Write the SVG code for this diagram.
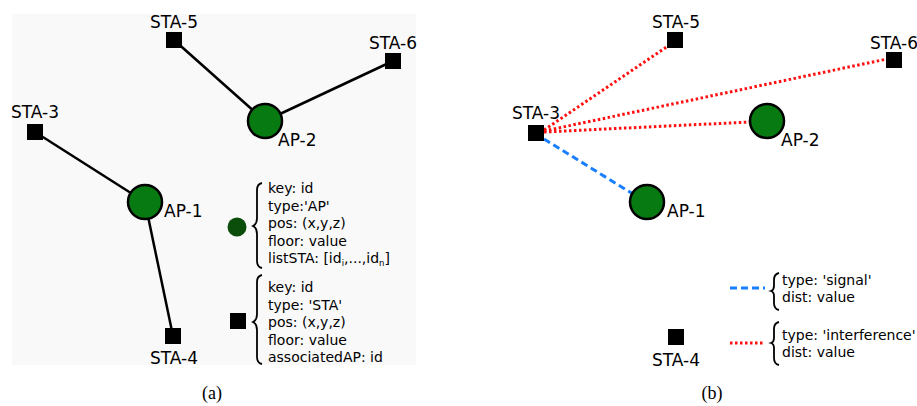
<svg xmlns="http://www.w3.org/2000/svg" width="917" height="406" viewBox="0 0 917 406">
<defs>
<style>
.lbl{font-family:"DejaVu Sans",sans-serif;font-size:17px;fill:#000}
.leg{font-family:"DejaVu Sans",sans-serif;font-size:14px;fill:#000}
.legr{font-family:"DejaVu Sans",sans-serif;font-size:14px;fill:#000}
.cap{font-family:"Liberation Serif",serif;font-size:18px;fill:#000}
.sta{fill:#000}
.ap{fill:#077a12;stroke:#000;stroke-width:2.5}
.edge{stroke:#000;stroke-width:2.5;fill:none}
.intf{stroke:#ff1010;stroke-width:3;stroke-dasharray:2.5 2.5;fill:none}
.sig{stroke:#1a7fff;stroke-width:3;stroke-dasharray:7 4;fill:none}
.brace{stroke:#000;stroke-width:1.8;fill:none}
</style>
</defs>
<rect x="0" y="0" width="917" height="406" fill="#fff"/>
<rect x="12" y="14" width="404" height="351" fill="#f9f9f9"/>

<g id="connectors">
<line class="edge" x1="174" y1="40" x2="265" y2="121"/>
<line class="edge" x1="393" y1="61" x2="265" y2="121"/>
<line class="edge" x1="35" y1="132" x2="145" y2="202"/>
<line class="edge" x1="145" y1="202" x2="173" y2="336"/>
<line class="intf" x1="544" y1="130" x2="668" y2="46"/>
<line class="intf" x1="544" y1="131" x2="887" y2="59"/>
<line class="intf" x1="544" y1="132" x2="750" y2="122"/>
<line class="sig" x1="544" y1="139" x2="633" y2="194"/>
</g>

<g id="a-sta5"><rect class="sta" x="166" y="32" width="16" height="16"/><text class="lbl" x="150" y="28">STA-5</text></g>
<g id="a-sta6"><rect class="sta" x="385" y="53" width="16" height="16"/><text class="lbl" x="369" y="49">STA-6</text></g>
<g id="a-sta3"><rect class="sta" x="27" y="124" width="16" height="16"/><text class="lbl" x="11" y="118">STA-3</text></g>
<g id="a-sta4"><rect class="sta" x="165" y="328" width="16" height="16"/><text class="lbl" x="150" y="364">STA-4</text></g>
<g id="a-ap2"><circle class="ap" cx="265" cy="121" r="17"/><text class="lbl" x="278" y="146">AP-2</text></g>
<g id="a-ap1"><circle class="ap" cx="145" cy="202" r="17"/><text class="lbl" x="164" y="217">AP-1</text></g>

<g id="a-legend-ap">
<circle cx="237" cy="227" r="9.5" fill="#0b4d0b"/>
<path class="brace" d="M262 183 Q257 184 257 190 L257 218 Q257 224 253 226 Q257 228 257 234 L257 261 Q257 267 262 268"/>
<text class="leg" x="268" y="193">key: id</text>
<text class="leg" x="268" y="210.5">type:'AP'</text>
<text class="leg" x="268" y="228">pos: (x,y,z)</text>
<text class="leg" x="268" y="245.5">floor: value</text>
<text class="leg" x="268" y="263">listSTA: [id<tspan font-size="8.5" dy="3">i</tspan><tspan dy="-3">,...,id</tspan><tspan font-size="8.5" dy="3">n</tspan><tspan dy="-3">]</tspan></text>
</g>
<g id="a-legend-sta">
<rect class="sta" x="230" y="313" width="16" height="16"/>
<path class="brace" d="M262 275 Q257 276 257 282 L257 314 Q257 320 253 322 Q257 324 257 330 L257 357 Q257 363 262 364"/>
<text class="leg" x="268" y="292">key: id</text>
<text class="leg" x="268" y="309.5">type: 'STA'</text>
<text class="leg" x="268" y="327">pos: (x,y,z)</text>
<text class="leg" x="268" y="344.5">floor: value</text>
<text class="leg" x="268" y="362">associatedAP: id</text>
</g>

<g id="b-sta5"><rect class="sta" x="667" y="32" width="16" height="16"/><text class="lbl" x="652" y="28">STA-5</text></g>
<g id="b-sta6"><rect class="sta" x="886" y="52" width="16" height="16"/><text class="lbl" x="870" y="49">STA-6</text></g>
<g id="b-sta3"><rect class="sta" x="528" y="125" width="16" height="16"/><text class="lbl" x="512" y="119">STA-3</text></g>
<g id="b-sta4"><rect class="sta" x="668" y="329" width="16" height="16"/><text class="lbl" x="652" y="366">STA-4</text></g>
<g id="b-ap2"><circle class="ap" cx="767" cy="121" r="17"/><text class="lbl" x="781" y="146">AP-2</text></g>
<g id="b-ap1"><circle class="ap" cx="647" cy="202" r="17"/><text class="lbl" x="667" y="217">AP-1</text></g>

<g id="b-legend-signal">
<line class="sig" x1="730" y1="288" x2="765" y2="288"/>
<path class="brace" d="M779 273 Q774 274 774 280 L774 286 Q774 290 771 291 Q774 292 774 296 L774 303 Q774 309 779 310"/>
<text class="legr" x="782" y="285">type: 'signal'</text>
<text class="legr" x="782" y="302">dist: value</text>
</g>
<g id="b-legend-interference">
<line class="intf" x1="730" y1="343" x2="765" y2="343"/>
<path class="brace" d="M779 322 Q774 323 774 329 L774 338 Q774 342 771 343 Q774 344 774 348 L774 358 Q774 364 779 365"/>
<text class="legr" x="782" y="340">type: 'interference'</text>
<text class="legr" x="782" y="357">dist: value</text>
</g>

<text class="cap" x="212" y="399" text-anchor="middle">(a)</text>
<text class="cap" x="712" y="399" text-anchor="middle">(b)</text>
</svg>
